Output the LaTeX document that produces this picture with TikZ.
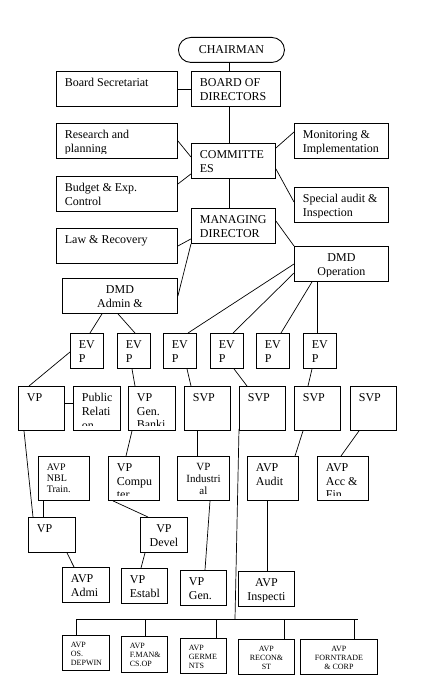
\documentclass[tikz,border=0pt]{standalone}
\usepackage{fontspec}
\setmainfont{Liberation Serif}
\newcommand\unitfont{\fontsize{12}{13.8}\selectfont}
\newcommand\midunitfont{\fontsize{11}{12}\selectfont}
\newcommand\smallunitfont{\fontsize{10}{11}\selectfont}
\newcommand\tinyunitfont{\fontsize{8}{9}\selectfont}
\tikzset{
  unit/.style={draw, line width=0.9pt, inner sep=0pt, anchor=north west},
  untext/.style={draw=none, minimum width=0pt, minimum height=0pt, inner sep=0pt, font=\unitfont},
  unitl/.style={untext, anchor=north west, at={([shift={(8pt,-6.5pt)}]path picture bounding box.north west)}, align=left},
  unitc/.style={untext, anchor=north, at={([yshift=-6.5pt]path picture bounding box.north)}, align=center},
  link/.style={line width=0.7pt}
}
\newcommand\orgunit[6][unitl]{%
  \node[unit, minimum width=#4pt, minimum height=#5pt,
    path picture={\clip ([yshift=5pt]path picture bounding box.south west) rectangle (path picture bounding box.north east);
      \node[#1] {#6};}] (#2) at #3 {};}
\begin{document}
\begin{tikzpicture}[x=1pt, y=-1pt]
    \useasboundingbox (0,0) rectangle (427,677);
    \node[unit, rounded corners=12.5pt, minimum width=106pt, minimum height=25pt, font=\unitfont] (chair) at (178,37) {CHAIRMAN};
    \orgunit{bsec}{(56,71)}{121}{35}{Board Secretariat}
    \orgunit{bod}{(191,71)}{89}{35}{BOARD OF\\DIRECTORS}
    \orgunit{research}{(56,123)}{121}{35}{Research and\\planning}
    \orgunit{comm}{(191,143)}{84}{35}{COMMITTE\\ES}
    \orgunit{monit}{(294,123)}{94}{35}{Monitoring \&\\Implementation}
    \orgunit{budget}{(56,176)}{121}{35}{Budget \& Exp.\\Control}
    \orgunit{special}{(294,187)}{94}{35}{Special audit \&\\Inspection}
    \orgunit{md}{(191,208)}{84}{35}{MANAGING\\DIRECTOR}
    \orgunit{law}{(56,228)}{121}{35}{Law \& Recovery}
    \orgunit[unitc]{dmdadm}{(62,278)}{115}{35}{DMD\\Admin \&}
    \orgunit[unitc]{dmdop}{(294,246)}{94}{35}{DMD\\Operation}
    \foreach \n/\x in {evpa/70, evpb/117, evpc/163, evpd/210, evpe/256, evpf/303}
        \orgunit{\n}{(\x,333)}{33}{35}{EV\\P};
    \orgunit{vpa}{(18,386)}{46}{44}{VP}
    \orgunit{pubrel}{(73,386)}{47}{44}{Public\\Relati\\on}
    \orgunit{vpgen}{(128,386)}{47}{44}{VP\\Gen.\\Banki}
    \foreach \n/\x in {svpa/184, svpb/239, svpc/294, svpd/350}
        \orgunit{\n}{(\x,386)}{46}{44}{SVP};
    \orgunit[unitl, font=\smallunitfont]{avpnbl}{(38,456)}{51}{44}{AVP\\NBL\\Train.}
    \orgunit{vpcomp}{(108,456)}{51}{44}{VP\\Compu\\ter}
    \orgunit[unitc, font=\midunitfont]{vpind}{(177,456)}{52}{44}{VP\\Industri\\al}
    \orgunit{avpaud}{(247,456)}{51}{44}{AVP\\Audit}
    \orgunit{avpacc}{(317,456)}{51}{44}{AVP\\Acc \&\\Fin}
    \orgunit{vpb}{(28,517)}{47}{35}{VP}
    \orgunit[unitc]{vpdev}{(140,517)}{47}{35}{VP\\Devel}
    \orgunit{avpadm}{(62,567)}{47}{35}{AVP\\Admi}
    \orgunit{vpest}{(121,568)}{46}{35}{VP\\Establ}
    \orgunit{vpgenb}{(180,570)}{46}{35}{VP\\Gen.}
    \orgunit[unitc]{avpins}{(238,571)}{56}{35}{AVP\\Inspecti}
    \orgunit[unitl, font=\tinyunitfont]{avpos}{(62,635)}{47}{35}{AVP\\OS.\\DEPWIN}
    \orgunit[unitl, font=\tinyunitfont]{avpfman}{(121,636)}{46}{36}{AVP\\F.MAN\&\\CS.OP}
    \orgunit[unitl, font=\tinyunitfont]{avpgerm}{(180,638)}{46}{35}{AVP\\GERME\\NTS}
    \orgunit[unitc, font=\tinyunitfont]{avprecon}{(238,639)}{56}{35}{AVP\\RECON\&\\ST}
    \orgunit[unitc, font=\tinyunitfont]{avpforn}{(300,639)}{77}{35}{AVP\\FORNTRADE\\\& CORP}
    \coordinate (trunk) at (229,0);
    \draw[link] (chair.south -| trunk) -- (bod.north -| trunk);
    \draw[link] (bod.south -| trunk) -- (comm.north -| trunk);
    \draw[link] (comm.south -| trunk) -- (md.north -| trunk);
    \draw[link] (bsec.east) -- (bod.west);
    \draw[link] (research.east) -- ([yshift=-14pt]comm.north west);
    \draw[link] ([yshift=-9pt]monit.north west) -- ([yshift=-5pt]comm.north east);
    \draw[link] ([yshift=-8pt]budget.north east) -- ([yshift=5pt]comm.south west);
    \draw[link] ([yshift=10pt]comm.south east) -- ([yshift=-15pt]special.north west);
    \draw[link] ([yshift=-18pt]law.north east) -- ([yshift=5pt]md.south west);
    \draw[link] (md.south west) -- ([yshift=-18pt]dmdadm.north east);
    \draw[link] ([yshift=-13pt]md.north east) -- (dmdop.north west);
    \draw[link] ([xshift=40pt]dmdadm.south west) -- ([xshift=20pt]evpa.north west);
    \draw[link] ([xshift=56pt]dmdadm.south west) -- ([xshift=18pt]evpb.north west);
    \draw[link] ([yshift=-18pt]dmdop.north west) -- ([xshift=25pt]evpc.north west);
    \draw[link] ([yshift=-27pt]dmdop.north west) -- ([xshift=23pt]evpd.north west);
    \draw[link] ([xshift=18pt]dmdop.south west) -- ([xshift=25pt]evpe.north west);
    \draw[link] ([xshift=23pt]dmdop.south west) -- ([xshift=14pt]evpf.north west);
    \draw[link] ([yshift=-19pt]evpa.north west) -- ([xshift=11pt]vpa.north west);
    \draw[link] ([xshift=15pt]evpb.south west) -- ([xshift=7pt]vpgen.north west);
    \draw[link] ([xshift=24pt]evpc.south west) -- ([xshift=7pt]svpa.north west);
    \draw[link] ([xshift=24pt]evpd.south west) -- ([xshift=8pt]svpb.north west);
    \draw[link] ([xshift=9pt]evpf.south west) -- ([xshift=14pt]svpc.north west);
    \draw[link] ([yshift=-17pt]vpa.north east) -- ([yshift=-17pt]pubrel.north west);
    \draw[link] ([xshift=6pt]vpa.south west) -- ([xshift=5pt]vpb.north west);
    \draw[link] ([xshift=5pt]avpnbl.south west) -- ([xshift=15pt]vpb.north west);
    \draw[link] ([xshift=4pt]vpgen.south west) -- ([xshift=18pt]vpcomp.north west);
    \draw[link] ([xshift=13pt]svpa.south west) -- ([xshift=20pt]vpind.north west);
    \draw[link] ([xshift=9pt]svpc.south west) -- ([xshift=48pt]avpaud.north west);
    \draw[link] ([xshift=9pt]svpd.south west) -- ([xshift=24pt]avpacc.north west);
    \draw[link] ([xshift=5pt]vpcomp.south west) -- ([xshift=8pt]vpdev.north west);
    \draw[link] ([xshift=39pt]vpb.south west) -- ([xshift=12pt]avpadm.north west);
    \draw[link] ([xshift=5pt]vpdev.south west) -- ([xshift=20pt]vpest.north west);
    \draw[link] ([xshift=33pt]vpind.south west) -- ([xshift=25pt]vpgenb.north west);
    \draw[link] ([xshift=20pt]avpaud.south west) -- ([xshift=29pt]avpins.north west);
    \coordinate (busl) at (76,619);\coordinate (busr) at (358,619);\coordinate (busj) at (235,619);
    \draw[link] (busl) -- (busr);
    \draw[link] ([yshift=2pt]svpb.south west) -- (busj);
    \foreach \n/\dx in {avpos/14, avpfman/24, avpgerm/36, avprecon/46, avpforn/54}
        \draw[link] ([xshift=\dx pt]\n.north west) coordinate (drop) -- (drop |- busl);
\end{tikzpicture}
\end{document}
